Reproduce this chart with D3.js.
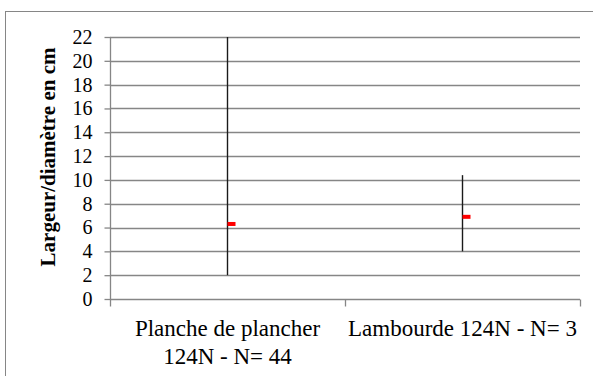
<!DOCTYPE html>
<html>
<head>
<meta charset="utf-8">
<script src="https://cdn.jsdelivr.net/npm/d3@7"></script>
<style>
  html, body { margin: 0; padding: 0; background: #fff; }
  svg { display: block; }
  .serif { font-family: "Liberation Serif", "Times New Roman", Times, "DejaVu Serif", serif; }
</style>
</head>
<body>
<svg id="chart" width="593" height="376"></svg>
<script>
// Categories (each label split over lines as displayed)
const categories = ["Planche de plancher 124N - N= 44", "Lambourde 124N - N= 3"];
const categoryLines = [["Planche de plancher", "124N - N= 44"], ["Lambourde 124N - N= 3"]];
// Min / max range and mean per category (cm)
const minValues = [2, 4];
const maxValues = [22, 10.4];
const meanValues = [6.3, 6.9];
// Y axis ticks
const yTicks = [0, 2, 4, 6, 8, 10, 12, 14, 16, 18, 20, 22];

const svg = d3.select("#chart");
const plot = { left: 110, right: 580, top: 37, bottom: 299 };
const gridColor = "#868686";

// outer frame
svg.append("rect")
  .attr("x", 5.5).attr("y", 11.5)
  .attr("width", 600).attr("height", 400)
  .attr("fill", "#fff").attr("stroke", gridColor).attr("stroke-width", 1);

const x = d3.scaleBand().domain(categories).range([plot.left, plot.right]).padding(0);
const y = d3.scaleLinear().domain([0, 22]).range([plot.bottom, plot.top]);

// horizontal gridlines
svg.append("g")
  .selectAll("line")
  .data(yTicks.filter(d => d > 0))
  .join("line")
  .attr("x1", plot.left).attr("x2", plot.right)
  .attr("y1", d => Math.round(y(d)) + 0.5).attr("y2", d => Math.round(y(d)) + 0.5)
  .attr("stroke", gridColor).attr("stroke-width", 1.3);

// y axis
const yAxis = svg.append("g")
  .attr("transform", `translate(${plot.left + 0.5},0)`)
  .call(d3.axisLeft(y).tickValues(yTicks).tickSize(6).tickPadding(12).tickFormat(d3.format("d")));
yAxis.attr("font-family", null);
yAxis.selectAll("path, line").attr("stroke", gridColor).attr("stroke-width", 1.3);
yAxis.select(".domain").attr("d", `M0,${plot.top}V${plot.bottom}`);
yAxis.selectAll("text")
  .attr("class", "serif")
  .attr("fill", "#000").attr("font-size", 20);

// x axis
const xAxis = svg.append("g")
  .attr("transform", `translate(0,${Math.round(plot.bottom) + 0.5})`)
  .call(d3.axisBottom(x).tickSize(0).tickFormat(""));
xAxis.select(".domain").attr("stroke", gridColor).attr("stroke-width", 1.3)
  .attr("d", `M${plot.left},0H${plot.right}`);
// tick marks between categories
const bounds = [plot.left, ...categories.map(c => x(c) + x.bandwidth())];
xAxis.selectAll(".sep")
  .data(bounds)
  .join("line")
  .attr("class", "sep")
  .attr("x1", d => Math.round(d) + 0.5).attr("x2", d => Math.round(d) + 0.5)
  .attr("y1", 0).attr("y2", 7)
  .attr("stroke", gridColor).attr("stroke-width", 1.3);

// category labels
const labels = svg.append("g")
  .selectAll("text")
  .data(categories)
  .join("text")
  .attr("class", "serif")
  .attr("text-anchor", "middle")
  .attr("font-size", 23).attr("fill", "#000");
labels.each(function(c, i) {
  const cx = x(c) + x.bandwidth() / 2;
  d3.select(this).selectAll("tspan")
    .data(categoryLines[i])
    .join("tspan")
    .attr("x", cx)
    .attr("y", (d, j) => 336 + j * 28)
    .text(d => d);
});

// y axis title
svg.append("text")
  .attr("class", "serif")
  .attr("transform", `translate(55,${(plot.top + plot.bottom) / 2 - 11}) rotate(-90)`)
  .attr("text-anchor", "middle")
  .attr("font-size", 21).attr("font-weight", "bold")
  .attr("fill", "#000")
  .text("Largeur/diamètre en cm");

// min-max range lines
svg.append("g")
  .selectAll("line")
  .data(categories)
  .join("line")
  .attr("x1", c => x(c) + x.bandwidth() / 2).attr("x2", c => x(c) + x.bandwidth() / 2)
  .attr("y1", (c, i) => y(minValues[i])).attr("y2", (c, i) => y(maxValues[i]))
  .attr("stroke", "#1a1a1a").attr("stroke-width", 1.4);

// mean markers
svg.append("g")
  .selectAll("rect")
  .data(categories)
  .join("rect")
  .attr("x", c => x(c) + x.bandwidth() / 2)
  .attr("y", (c, i) => y(meanValues[i]) - 2)
  .attr("width", 8).attr("height", 4)
  .attr("fill", "#ff0000");
</script>
</body>
</html>
